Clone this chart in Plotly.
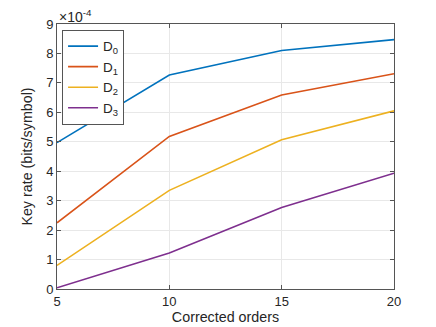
import plotly.graph_objects as go

# corrected orders on x, key rate in units of 1e-4 bits/symbol
orders = [5, 10, 15, 20]
names = ['D<sub>0</sub>', 'D<sub>1</sub>', 'D<sub>2</sub>', 'D<sub>3</sub>']
d0 = [4.97, 7.27, 8.10, 8.47]
d1 = [2.25, 5.18, 6.59, 7.31]
d2 = [0.80, 3.35, 5.07, 6.05]
d3 = [0.04, 1.22, 2.77, 3.93]
colors = ['#0072BD', '#D95319', '#EDB120', '#7E2F8E']

fig = go.Figure()
for name, vals, col in zip(names, [d0, d1, d2, d3], colors):
    fig.add_trace(go.Scatter(x=orders, y=vals, mode='lines', name=name,
                             line=dict(color=col, width=1.6)))

axis_style = dict(showline=True, linecolor='#555555', linewidth=1, mirror='ticks',
                  ticks='inside', ticklen=4, tickcolor='#555555',
                  showgrid=True, gridcolor='#e8e8e8', zeroline=False,
                  automargin=False,
                  tickfont=dict(size=13, color='#262626'))

fig.update_xaxes(range=[5, 20], tickvals=[5, 10, 15, 20],
                 title=dict(text='Corrected orders', font=dict(size=14.3, color='#262626'), standoff=2),
                 **axis_style)
fig.update_yaxes(range=[0, 9], tickvals=list(range(10)),
                 title=dict(text='Key rate (bits/symbol)', font=dict(size=14.3, color='#262626'), standoff=10),
                 **axis_style)

fig.update_layout(
    width=436, height=327,
    margin=dict(l=57, r=42, t=24, b=38),
    plot_bgcolor='white', paper_bgcolor='white',
    font=dict(family='Liberation Sans, Arial, sans-serif', color='#262626'),
    showlegend=True,
    legend=dict(x=0.015, y=0.978, xanchor='left', yanchor='top',
                bgcolor='white', bordercolor='#555555', borderwidth=1,
                font=dict(size=13.5), tracegroupgap=0, itemwidth=30),
    annotations=[dict(text='\u00d710<sup>-4</sup>', x=0, y=1, xref='paper', yref='paper',
                      xanchor='left', yanchor='bottom', showarrow=False,
                      font=dict(size=14, color='#262626'), yshift=-3)],
)

# page body margin would shift the figure by 8px
fig.write_html("out.html", config={'displayModeBar': False},
               post_script="document.body.style.margin='0';")
